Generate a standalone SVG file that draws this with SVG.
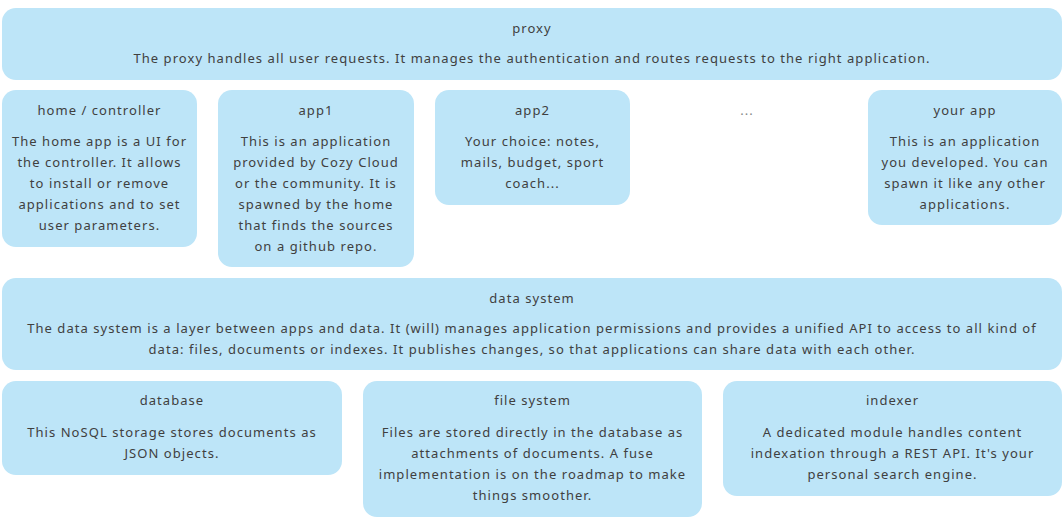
<svg xmlns="http://www.w3.org/2000/svg" width="1064" height="525" viewBox="0 0 1064 525">
<style>
.box{fill:#bde5f8}
text{font-family:"Noto Sans","DejaVu Sans",sans-serif;font-size:13px;fill:#404040;text-anchor:middle;letter-spacing:1.05px}
.dots{fill:#888}
</style>
<rect width="1064" height="525" fill="#ffffff"/>
<g id="connectors"/>
<g id="proxy">
<rect class="box" x="2" y="8" width="1060" height="72" rx="14"/>
<text x="532" y="33">proxy</text>
<text x="532" y="63">The proxy handles all user requests. It manages the authentication and routes requests to the right application.</text>
</g>
<g id="home">
<rect class="box" x="2" y="90" width="195" height="157" rx="14"/>
<text x="99.5" y="114.5">home / controller</text>
<text x="99.5" y="145.5">The home app is a UI for</text>
<text x="99.5" y="166.5">the controller. It allows</text>
<text x="99.5" y="187.5">to install or remove</text>
<text x="99.5" y="208.5">applications and to set</text>
<text x="99.5" y="229.5">user parameters.</text>
</g>
<g id="app1">
<rect class="box" x="218" y="90" width="196" height="177" rx="14"/>
<text x="316" y="114.5">app1</text>
<text x="316" y="145.5">This is an application</text>
<text x="316" y="166.5">provided by Cozy Cloud</text>
<text x="316" y="187.5">or the community. It is</text>
<text x="316" y="208.5">spawned by the home</text>
<text x="316" y="229.5">that finds the sources</text>
<text x="316" y="250.5">on a github repo.</text>
</g>
<g id="app2">
<rect class="box" x="435" y="90" width="195" height="115" rx="14"/>
<text x="532.5" y="114.5">app2</text>
<text x="532.5" y="145.5">Your choice: notes,</text>
<text x="532.5" y="166.5">mails, budget, sport</text>
<text x="532.5" y="187.5">coach...</text>
</g>
<g id="more">
<text class="dots" x="747" y="114.5">...</text>
</g>
<g id="yourapp">
<rect class="box" x="868" y="90" width="194" height="135" rx="14"/>
<text x="965" y="114.5">your app</text>
<text x="965" y="145.5">This is an application</text>
<text x="965" y="166.5">you developed. You can</text>
<text x="965" y="187.5">spawn it like any other</text>
<text x="965" y="208.5">applications.</text>
</g>
<g id="datasystem">
<rect class="box" x="2" y="278" width="1060" height="92" rx="14"/>
<text x="532" y="302.5">data system</text>
<text x="532" y="332.5">The data system is a layer between apps and data. It (will) manages application permissions and provides a unified API to access to all kind of</text>
<text x="532" y="353.5">data: files, documents or indexes. It publishes changes, so that applications can share data with each other.</text>
</g>
<g id="database">
<rect class="box" x="2" y="381" width="340" height="94" rx="14"/>
<text x="172" y="404.5">database</text>
<text x="172" y="436.5">This NoSQL storage stores documents as</text>
<text x="172" y="457.5">JSON objects.</text>
</g>
<g id="filesystem">
<rect class="box" x="363" y="381" width="339" height="136" rx="14"/>
<text x="532.5" y="404.5">file system</text>
<text x="532.5" y="436.5">Files are stored directly in the database as</text>
<text x="532.5" y="457.5">attachments of documents. A fuse</text>
<text x="532.5" y="478.5">implementation is on the roadmap to make</text>
<text x="532.5" y="499.5">things smoother.</text>
</g>
<g id="indexer">
<rect class="box" x="723" y="381" width="339" height="115" rx="14"/>
<text x="892.5" y="404.5">indexer</text>
<text x="892.5" y="436.5">A dedicated module handles content</text>
<text x="892.5" y="457.5">indexation through a REST API. It's your</text>
<text x="892.5" y="478.5">personal search engine.</text>
</g>
</svg>
